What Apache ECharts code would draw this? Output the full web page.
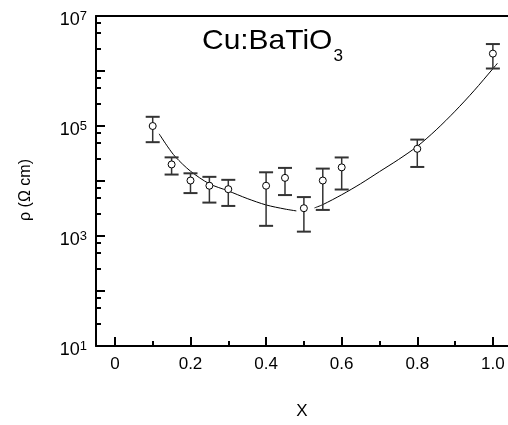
<!DOCTYPE html>
<html><head><meta charset="utf-8">
<script src="https://cdn.jsdelivr.net/npm/echarts@6/dist/echarts.min.js"></script>
<style>html,body{margin:0;padding:0;background:#fff}#c{width:508px;height:425px}</style>
</head><body><div id="c"></div>
<script>
// ---- data ----
const pointX   = [0.1, 0.15, 0.2, 0.25, 0.3, 0.4, 0.45, 0.5, 0.55, 0.6, 0.8, 1.0];
const pointRho = [1.0e5, 2.0e4, 1.02e4, 8.2e3, 7.1e3, 8.2e3, 1.14e4, 3.2e3, 1.02e4, 1.77e4, 3.85e4, 2.07e6];
const errHigh  = [1.47e5, 2.69e4, 1.38e4, 1.19e4, 1.05e4, 1.44e4, 1.73e4, 5.1e3, 1.68e4, 2.68e4, 5.66e4, 3.09e6];
const errLow   = [5.08e4, 1.31e4, 6.03e3, 4.05e3, 3.52e3, 1.53e3, 5.55e3, 1.2e3, 2.98e3, 7.0e3, 1.8e4, 1.11e6];

const fitLeftX    = [0.117, 0.14, 0.16, 0.2, 0.25, 0.3, 0.35, 0.4, 0.45, 0.48];
const fitLeftRho  = [7.2e4, 4.17e4, 2.75e4, 1.51e4, 8.9e3, 6.6e3, 4.8e3, 3.67e3, 3.09e3, 2.86e3];
const fitRightX   = [0.528, 0.55, 0.6, 0.65, 0.7, 0.75, 0.8, 0.85, 0.9, 0.95, 1.0, 1.012];
const fitRightRho = [3.24e3, 3.72e3, 5.62e3, 8.91e3, 1.48e4, 2.45e4, 4.27e4, 8.51e4, 1.86e5, 4.37e5, 1.10e6, 1.38e6];

const xTicks      = [0, 0.2, 0.4, 0.6, 0.8, 1.0];
const xTickLabels = ['0', '0.2', '0.4', '0.6', '0.8', '1.0'];
const xMinorTicks = [0.1, 0.3, 0.5, 0.7, 0.9];
const yTicks      = [1e1, 1e2, 1e3, 1e4, 1e5, 1e6, 1e7];
const yLabelTicks = [1e1, 1e3, 1e5, 1e7];
const yMinorMantissas = [2.5, 5, 7.5];

const titleMain = 'Cu:BaTiO';
const titleSub = '3';
const yName = 'ρ (Ω cm)';
const xName = 'X';

// ---- chart ----
const FONT = '"Liberation Sans", Arial, Helvetica, sans-serif';
const yMinorTicks = [];
yTicks.slice(0, -1).forEach(d => yMinorMantissas.forEach(m => yMinorTicks.push(d * m)));

const X_MIN = -0.05, X_MAX = 1.04, Y_MIN = 10, Y_MAX = 1e7;
const axisLineStyle = { color: '#000', width: 2 };

const chart = echarts.init(document.getElementById('c'), null, { renderer: 'canvas' });
chart.setOption({
  animation: false,
  backgroundColor: '#fff',
  grid: { left: 96, right: 0, top: 16, bottom: 76, containLabel: false },
  graphic: [
    {
      type: 'text', x: 202, y: 41, scaleX: 1.07, z: 10,
      style: {
        text: '{m|' + titleMain + '}{s|' + titleSub + '}',
        align: 'left', verticalAlign: 'middle',
        rich: {
          m: { fontFamily: FONT, fontSize: 28, fill: '#000' },
          s: { fontFamily: FONT, fontSize: 16, fill: '#000', padding: [32, 0, 0, 1] }
        }
      }
    },
    {
      type: 'text', x: 26, y: 190, rotation: Math.PI / 2, z: 10,
      style: { text: yName, fontFamily: FONT, fontSize: 16, fill: '#000', align: 'center', verticalAlign: 'middle' }
    }
  ],
  xAxis: [
    {
      type: 'value', min: X_MIN, max: X_MAX, position: 'bottom',
      name: xName, nameLocation: 'middle', nameGap: 57,
      nameTextStyle: { fontFamily: FONT, fontSize: 17, color: '#000' },
      axisLine: { show: true, onZero: false, lineStyle: axisLineStyle },
      axisTick: { show: true, inside: true, length: 9, lineStyle: { color: '#000', width: 2 }, customValues: xTicks },
      axisLabel: {
        show: true, margin: 10, fontFamily: FONT, fontSize: 17, color: '#000',
        customValues: xTicks,
        formatter: v => xTickLabels[xTicks.findIndex(t => Math.abs(t - v) < 1e-9)]
      },
      splitLine: { show: false }
    },
    {
      type: 'value', min: X_MIN, max: X_MAX, position: 'bottom',
      axisLine: { show: false, onZero: false },
      axisTick: { show: true, inside: true, length: 5, lineStyle: { color: '#000', width: 2 }, customValues: xMinorTicks },
      axisLabel: { show: false },
      splitLine: { show: false }
    },
    {
      type: 'value', min: X_MIN, max: X_MAX, position: 'top',
      axisLine: { show: true, onZero: false, lineStyle: axisLineStyle },
      axisTick: { show: false }, axisLabel: { show: false }, splitLine: { show: false }
    }
  ],
  yAxis: [
    {
      type: 'log', logBase: 10, min: Y_MIN, max: Y_MAX, position: 'left',
      axisLine: { show: true, onZero: false, lineStyle: axisLineStyle },
      axisTick: { show: true, inside: true, length: 9, lineStyle: { color: '#000', width: 2 }, customValues: yTicks },
      axisLabel: {
        show: true, margin: 9, customValues: yLabelTicks,
        formatter: v => '{b|10}{s|' + Math.round(Math.log10(v)) + '}',
        rich: {
          b: { fontFamily: FONT, fontSize: 18, color: '#000', padding: [8, 0, 0, 0] },
          s: { fontFamily: FONT, fontSize: 13, color: '#000', padding: [0, 0, 0, 0] }
        }
      },
      splitLine: { show: false }
    },
    {
      type: 'log', logBase: 10, min: Y_MIN, max: Y_MAX, position: 'left',
      axisLine: { show: false, onZero: false },
      axisTick: { show: true, inside: true, length: 5, lineStyle: { color: '#000', width: 2 }, customValues: yMinorTicks },
      axisLabel: { show: false },
      splitLine: { show: false }
    }
  ],
  series: [
    {
      type: 'line', xAxisIndex: 0, yAxisIndex: 0, showSymbol: false, smooth: 0.3, z: 3,
      lineStyle: { color: '#000', width: 1 },
      data: fitLeftX.map((x, i) => [x, fitLeftRho[i]])
    },
    {
      type: 'line', xAxisIndex: 0, yAxisIndex: 0, showSymbol: false, smooth: 0.3, z: 3,
      lineStyle: { color: '#000', width: 1 },
      data: fitRightX.map((x, i) => [x, fitRightRho[i]])
    },
    {
      type: 'custom', xAxisIndex: 0, yAxisIndex: 0, z: 4,
      data: pointX.map((x, i) => [x, errLow[i], errHigh[i]]),
      encode: { x: 0, y: [1, 2] },
      renderItem: (params, api) => {
        const x = api.value(0);
        const lo = api.coord([x, api.value(1)]);
        const hi = api.coord([x, api.value(2)]);
        const hw = 7;
        const vs = { stroke: '#333', lineWidth: 1.5 };
        const cs = { stroke: '#333', lineWidth: 2 };
        return {
          type: 'group', children: [
            { type: 'line', shape: { x1: lo[0], y1: lo[1], x2: hi[0], y2: hi[1] }, style: vs },
            { type: 'line', shape: { x1: hi[0] - hw, y1: hi[1], x2: hi[0] + hw, y2: hi[1] }, style: cs },
            { type: 'line', shape: { x1: lo[0] - hw, y1: lo[1], x2: lo[0] + hw, y2: lo[1] }, style: cs }
          ]
        };
      }
    },
    {
      type: 'scatter', xAxisIndex: 0, yAxisIndex: 0, z: 5,
      symbol: 'circle', symbolSize: 7,
      itemStyle: { color: '#fff', borderColor: '#000', borderWidth: 1, opacity: 1 },
      data: pointX.map((x, i) => [x, pointRho[i]])
    }
  ]
});
</script>
</body></html>
